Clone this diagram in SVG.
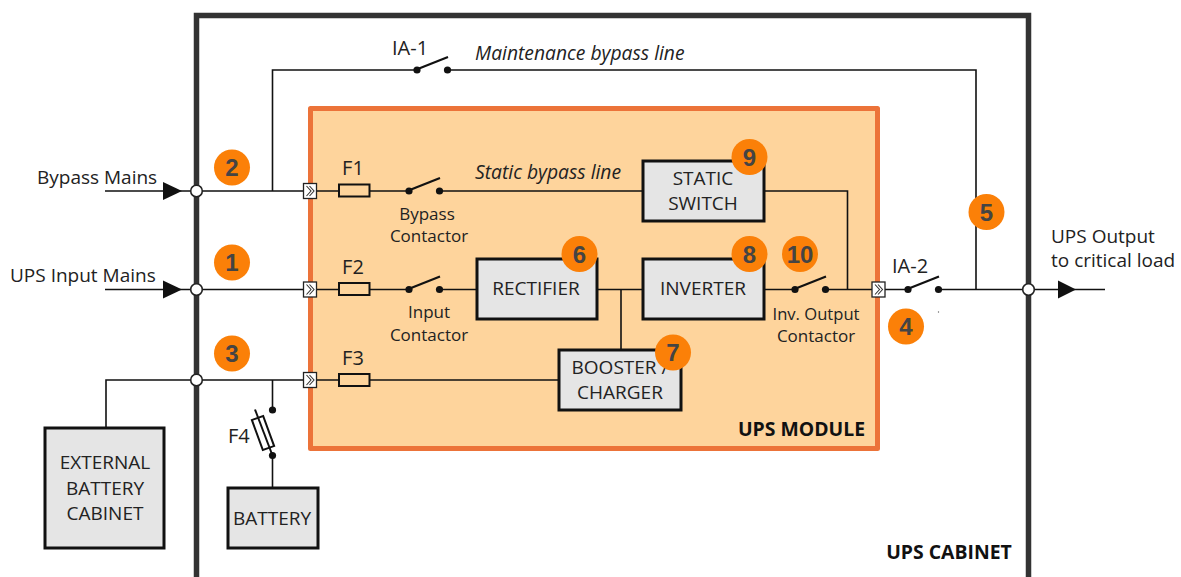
<svg xmlns="http://www.w3.org/2000/svg" width="1181" height="577" viewBox="0 0 1181 577">
<style>
text{font-family:"Open Sans","Liberation Sans",sans-serif;fill:#222;font-size:19px}
.m{text-anchor:middle}
.f{font-size:20px}
.l{font-size:19.300px;font-style:italic}
.s{font-size:17px}
.b{font-weight:700;font-size:19.400px;fill:#111}
.box{fill:#e5e5e5;stroke:#111;stroke-width:3}
.w{fill:none;stroke:#111;stroke-width:1.6}
.dot{fill:#111}
.tap{fill:#fff;stroke:#222;stroke-width:1.6}
.n{fill:#fb8008}
.nt{font-family:"Liberation Sans",Arial,sans-serif;font-weight:700;font-size:24px;fill:#444;text-anchor:middle}
</style>
<defs>
<g id="sw"><circle class="dot" cx="0" cy="0" r="3.600"/><circle class="dot" cx="30.500" cy="0" r="3.600"/><path class="w" d="M2 -1.500L31 -13" style="stroke-width:2.200"/></g>
<g id="port"><rect x="-6.500" y="-7.500" width="13" height="15" fill="#fff" stroke="#222" stroke-width="1.300"/><path d="M-3.500 -5L1 0L-3.500 5M-0.500 -5L4 0L-0.500 5" fill="none" stroke="#333" stroke-width="1.100"/></g>
<g id="fz"><rect x="-15" y="-6" width="30.500" height="12" fill="none" stroke="#111" stroke-width="2"/></g>
</defs>

<g id="ups-cabinet"><path d="M196.500 577V15.500H1028.500V577" fill="none" stroke="#333" stroke-width="5.500"/><text class="b m" x="949" y="559">UPS CABINET</text></g>
<g id="ups-module"><rect x="310.500" y="108.500" width="567" height="340" fill="#fed49c" stroke="#ec7339" stroke-width="5" stroke-linejoin="round"/><text class="b m" x="801.500" y="436">UPS MODULE</text></g>

<g id="connectors">
<path class="w" d="M105 191H310M272.500 191V70H417M447 70H976V289M310 191H339M369 191H409M439 191H643M765 191H847.500V289"/>
<path class="w" d="M105 289.500H339M369 289.500H409M439 289.500H477M597 289.500H643M764 289.500H795M825 289.500H908M938 289.500H1105M621 289.500V351"/>
<path class="w" d="M106 428V380H339M369 380H559M272.500 380V410M272.500 455V488"/>
<path d="M163 182L182 191L163 200Z" fill="#111"/>
<path d="M163 280.500L182 289.500L163 298.500Z" fill="#111"/>
<path d="M1058 280.500L1076 289.500L1058 298.500Z" fill="#111"/>
</g>

<g id="tap-points"><circle class="tap" cx="196.500" cy="191" r="5.800"/><circle class="tap" cx="196.500" cy="289.500" r="5.800"/><circle class="tap" cx="196.500" cy="380" r="5.800"/><circle class="tap" cx="1028.500" cy="289.500" r="5.800"/></g>
<g id="ports"><use href="#port" x="310" y="191"/><use href="#port" x="310" y="289.500"/><use href="#port" x="310" y="380"/><use href="#port" x="878.500" y="289.500"/></g>

<g id="ia-1"><use href="#sw" x="417" y="70"/><text class="f" x="392" y="55">IA-1</text></g>
<g id="ia-2"><use href="#sw" x="908" y="289.500"/><text class="f" x="892" y="273">IA-2</text><circle cx="938.500" cy="312" r="0.700" fill="#666"/></g>
<g id="f1"><use href="#fz" x="354" y="190.500"/><text class="f m" x="353" y="175">F1</text></g>
<g id="f2"><use href="#fz" x="354" y="289"/><text class="f m" x="353" y="274">F2</text></g>
<g id="f3"><use href="#fz" x="354" y="380"/><text class="f m" x="353" y="365">F3</text></g>
<g id="f4"><circle class="dot" cx="272.500" cy="410" r="3.600"/><circle class="dot" cx="272.500" cy="455.500" r="3.600"/>
<rect x="-6" y="-16" width="12" height="32" fill="none" stroke="#111" stroke-width="2" transform="translate(263,433) rotate(-20)"/><path class="w" style="stroke-width:2" d="M255 409.500L272.500 455.500"/><text class="f" x="228" y="443">F4</text></g>
<g id="bypass-contactor"><use href="#sw" x="409" y="191"/><text class="s m" x="427" y="220">Bypass</text><text class="s m" x="429" y="242">Contactor</text></g>
<g id="input-contactor"><use href="#sw" x="409" y="289.500"/><text class="s m" x="429" y="318">Input</text><text class="s m" x="429" y="341">Contactor</text></g>
<g id="inv-output-contactor"><use href="#sw" x="795" y="289.500"/><text class="s m" x="816" y="320" textLength="87" lengthAdjust="spacingAndGlyphs">Inv. Output</text><text class="s m" x="816" y="342">Contactor</text></g>

<g id="static-switch"><rect class="box" x="643" y="161" width="121" height="60"/><text class="m" x="703" y="185">STATIC</text><text class="m" x="703" y="210">SWITCH</text></g>
<g id="rectifier"><rect class="box" x="477" y="259" width="120" height="60"/><text class="m" x="536" y="295">RECTIFIER</text></g>
<g id="inverter"><rect class="box" x="643" y="259" width="121" height="60"/><text class="m" x="703" y="295">INVERTER</text></g>
<g id="booster-charger"><rect class="box" x="559" y="350" width="122" height="60"/><text class="m" x="620" y="374">BOOSTER /</text><text class="m" x="620" y="399">CHARGER</text></g>
<g id="external-battery-cabinet"><rect class="box" x="45" y="428" width="119" height="120"/><text class="m" x="105" y="469">EXTERNAL</text><text class="m" x="105" y="495">BATTERY</text><text class="m" x="105" y="520">CABINET</text></g>
<g id="battery"><rect class="box" x="228" y="488" width="90" height="60"/><text class="m" x="272" y="525">BATTERY</text></g>

<g id="labels">
<text class="l" x="475" y="60">Maintenance bypass line</text>
<text class="l" x="475" y="179">Static bypass line</text>
<text x="37" y="184">Bypass Mains</text>
<text x="10" y="282">UPS Input Mains</text>
<text x="1051" y="243">UPS Output</text>
<text x="1051" y="267">to critical load</text>
</g>

<g id="badge-1"><circle class="n" cx="232" cy="262.500" r="18"/><text class="nt" x="232" y="271">1</text></g>
<g id="badge-2"><circle class="n" cx="232" cy="167.500" r="18"/><text class="nt" x="232" y="176">2</text></g>
<g id="badge-3"><circle class="n" cx="232" cy="353.500" r="18"/><text class="nt" x="232" y="362">3</text></g>
<g id="badge-4"><circle class="n" cx="906" cy="326.500" r="18"/><text class="nt" x="906" y="335">4</text></g>
<g id="badge-5"><circle class="n" cx="986.500" cy="212" r="18"/><text class="nt" x="986.500" y="220.500">5</text></g>
<g id="badge-6"><circle class="n" cx="579.500" cy="254" r="18"/><text class="nt" x="579.500" y="262.500">6</text></g>
<g id="badge-7"><circle class="n" cx="673" cy="352.500" r="18"/><text class="nt" x="673" y="361">7</text></g>
<g id="badge-8"><circle class="n" cx="749.500" cy="254" r="18"/><text class="nt" x="749.500" y="262.500">8</text></g>
<g id="badge-9"><circle class="n" cx="749.500" cy="157" r="18"/><text class="nt" x="749.500" y="165.500">9</text></g>
<g id="badge-10"><circle class="n" cx="800" cy="254" r="18"/><text class="nt" x="800" y="262.500">10</text></g>
</svg>
